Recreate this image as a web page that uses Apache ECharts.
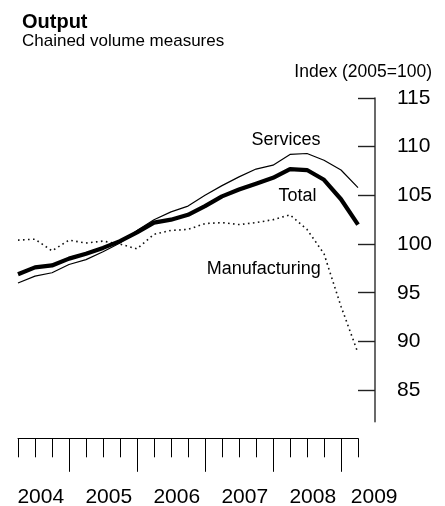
<!DOCTYPE html>
<html>
<head>
<meta charset="utf-8">
<script src="https://cdn.jsdelivr.net/npm/echarts@6/dist/echarts.min.js"></script>
<style>
html,body{margin:0;padding:0;background:#fff;}
#chart{width:445px;height:506px;}
</style>
</head>
<body>
<div id="chart"></div>
<script>
// Quarterly categories, 2004 Q1 to 2009 Q1
const categories = [
  '2004 Q1','2004 Q2','2004 Q3','2004 Q4',
  '2005 Q1','2005 Q2','2005 Q3','2005 Q4',
  '2006 Q1','2006 Q2','2006 Q3','2006 Q4',
  '2007 Q1','2007 Q2','2007 Q3','2007 Q4',
  '2008 Q1','2008 Q2','2008 Q3','2008 Q4',
  '2009 Q1'
];
const total = [96.9, 97.6, 97.8, 98.5, 99.0, 99.6, 100.3, 101.2, 102.2, 102.5, 103.0, 103.9, 104.9, 105.6, 106.2, 106.8, 107.7, 107.6, 106.6, 104.6, 102.0];
const services = [96.0, 96.7, 97.05, 97.9, 98.4, 99.2, 100.1, 101.4, 102.5, 103.3, 103.9, 105.0, 106.0, 106.9, 107.7, 108.1, 109.2, 109.3, 108.6, 107.6, 105.8];
const manufacturing = [100.4, 100.5, 99.3, 100.4, 100.1, 100.3, 100.0, 99.5, 101.0, 101.4, 101.5, 102.1, 102.2, 102.0, 102.2, 102.5, 103.0, 101.5, 99.0, 93.6, 88.8];
const yTicks = [85, 90, 95, 100, 105, 110, 115];
const yearLabels = ['2004', '2005', '2006', '2007', '2008', '2009'];
const seriesNames = ['Services', 'Total', 'Manufacturing'];

const FONT = '"Liberation Sans", Arial, Helvetica, sans-serif';
const chart = echarts.init(document.getElementById('chart'), null, {renderer: 'canvas'});

const yearPos = yearLabels.map((y, i) => i < yearLabels.length - 1 ? i * 4 + 1.34 : i * 4 + 0.95);

const option = {
  animation: false,
  backgroundColor: '#fff',
  grid: [
    {left: 18, right: 87, top: 98, bottom: 84.3, containLabel: false, outerBoundsMode: 'none'},
    {left: 18, width: 425, top: 98, bottom: 84.3, containLabel: false, outerBoundsMode: 'none'}
  ],
  xAxis: [
    {
      gridIndex: 0, type: 'category', data: categories, boundaryGap: false,
      position: 'bottom', offset: 16.6,
      axisLine: {show: true, lineStyle: {color: '#000', width: 1}},
      axisTick: {show: true, length: 19, interval: 0, lineStyle: {color: '#000', width: 1}},
      axisLabel: {show: false}, splitLine: {show: false}
    },
    {
      gridIndex: 0, type: 'category', data: categories, boundaryGap: false,
      position: 'bottom', offset: 16.6,
      axisLine: {show: false},
      axisTick: {show: true, length: 33.5, interval: (idx) => idx % 4 === 3, lineStyle: {color: '#000', width: 1}},
      axisLabel: {show: false}, splitLine: {show: false}
    },
    {
      gridIndex: 1, type: 'value', min: 0, max: 25,
      position: 'bottom', offset: 16.6,
      axisLine: {show: false}, axisTick: {show: false}, splitLine: {show: false},
      axisLabel: {
        show: true, customValues: yearPos, margin: 48,
        color: '#000', fontSize: 21, fontFamily: FONT,
        formatter: (v) => {
          const k = yearPos.findIndex(p => Math.abs(p - v) < 1e-6);
          return k >= 0 ? yearLabels[k] : '';
        }
      }
    }
  ],
  yAxis: [
    {
      gridIndex: 0, type: 'value', min: 81.75, max: 115, position: 'right', offset: 17,
      axisLine: {show: true, lineStyle: {color: '#444', width: 1.6}},
      axisTick: {show: true, inside: true, length: 17, customValues: yTicks, lineStyle: {color: '#222', width: 1.4}},
      axisLabel: {show: true, customValues: yTicks, margin: 22, color: '#000', fontSize: 21, fontFamily: FONT},
      splitLine: {show: false}
    },
    {
      gridIndex: 1, type: 'value', show: false, min: 0, max: 1,
      axisLine: {show: false}, axisTick: {show: false}, axisLabel: {show: false}, splitLine: {show: false}
    }
  ],
  series: [
    {
      name: seriesNames[2], type: 'line', xAxisIndex: 0, yAxisIndex: 0, data: manufacturing,
      symbol: 'none', lineStyle: {color: '#111', width: 1.6, type: [1.6, 3.4]}, z: 2
    },
    {
      name: seriesNames[0], type: 'line', xAxisIndex: 0, yAxisIndex: 0, data: services,
      symbol: 'none', lineStyle: {color: '#000', width: 1.2}, z: 3
    },
    {
      name: seriesNames[1], type: 'line', xAxisIndex: 0, yAxisIndex: 0, data: total,
      symbol: 'none', lineStyle: {color: '#000', width: 4.2}, z: 4
    }
  ],
  graphic: [
    {type: 'text', x: 22, y: 22, style: {text: 'Output', font: 'bold 20px ' + FONT, fill: '#000', align: 'left', verticalAlign: 'middle'}},
    {type: 'text', x: 22, y: 41, style: {text: 'Chained volume measures', font: '17px ' + FONT, fill: '#000', align: 'left', verticalAlign: 'middle'}},
    {type: 'text', x: 432, y: 72, style: {text: 'Index (2005=100)', font: '17.5px ' + FONT, fill: '#000', align: 'right', verticalAlign: 'middle'}},
    {type: 'text', x: 286, y: 140, style: {text: seriesNames[0], font: '18px ' + FONT, fill: '#000', align: 'center', verticalAlign: 'middle'}},
    {type: 'text', x: 297.5, y: 196.5, style: {text: seriesNames[1], font: '18px ' + FONT, fill: '#000', align: 'center', verticalAlign: 'middle'}},
    {type: 'text', x: 263.7, y: 269.5, style: {text: seriesNames[2], font: '18px ' + FONT, fill: '#000', align: 'center', verticalAlign: 'middle'}}
  ]
};
chart.setOption(option);
</script>
</body>
</html>
